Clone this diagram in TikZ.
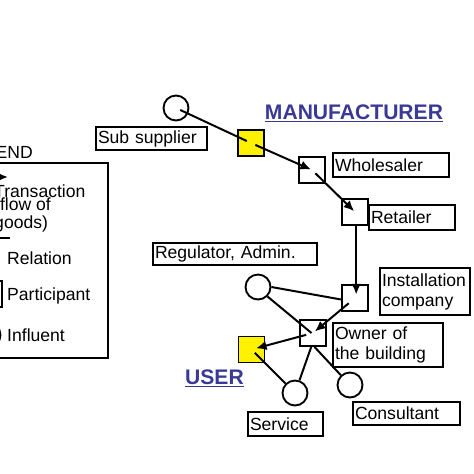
\documentclass[tikz,border=0pt]{standalone}
\usepackage{fontspec}
\setmainfont{Liberation Sans}
\usetikzlibrary{arrows.meta}
\definecolor{mfrblue}{RGB}{58,58,150}

\begin{document}
\begin{tikzpicture}[scale=0.3]
		\tikzstyle{every node}+=[inner sep=0pt, font=\fontsize{15}{17}\selectfont]
		\tikzstyle{party}=[draw=black, line width=1.6pt, minimum size=0.78cm]
		\tikzstyle{infl}=[draw=black, circle, line width=1.6pt, minimum size=0.75cm]
		\tikzstyle{tag}=[draw=black, line width=1.6pt, inner xsep=0.06cm, align=left]
		\tikzstyle{rel}=[black, line width=1.7pt]
		\tikzstyle{flow}=[black, line width=1.7pt, -{Latex[length=9pt,width=8pt]}]
		\useasboundingbox (0,0) rectangle (47.4,-47.4);
		\clip (0,0) rectangle (47.4,-47.4);
		% legend
		\draw [black, line width=1.3pt] (-6,-16.3) rectangle (10.8,-35.8);
		\node [anchor=east] (legtitle) at (3.3,-15.2) {LEGEND};
		\coordinate (fa) at (-2,-17.7);
		\coordinate (fb) at (0.8,-17.7);
		\draw [flow] (fa) -- (fb);
		\node [anchor=west, align=left, font=\fontsize{15}{11.5}\selectfont] (legflow) at (-0.6,-20.8) {Transaction\\(flow of\\goods)};
		\coordinate (ra) at (-2,-23.8);
		\coordinate (rb) at (1.0,-23.8);
		\draw [rel] (ra) -- (rb);
		\node [anchor=west] (legrel) at (0.7,-25.8) {Relation};
		\node [party] (legpart) at (-1.1,-29.4) {};
		\node [anchor=west] (legparttxt) at (0.7,-29.6) {Participant};
		\node [infl] (leginfl) at (-1.2,-33.5) {};
		\node [anchor=west] (leginfltxt) at (0.7,-33.5) {Influent};
		% headings
		\node [text=mfrblue, font=\fontsize{18}{20}\selectfont\bfseries] (mfr) at (35.4,-11.25) {MANUFACTURER};
		\draw [mfrblue, line width=1.2pt] ([yshift=-0.12cm]mfr.south west) -- ([yshift=-0.12cm]mfr.south east);
		\node [text=mfrblue, font=\fontsize{18}{20}\selectfont\bfseries] (usr) at (21.45,-37.75) {USER};
		\draw [mfrblue, line width=1.2pt] ([yshift=-0.12cm]usr.south west) -- ([yshift=-0.12cm]usr.south east);
		% participants and influents
		\node [infl] (sub) at (17.6,-10.8) {};
		\node [party, fill=yellow] (y1) at (25.1,-14.3) {};
		\node [party] (whs) at (31.2,-17.0) {};
		\node [party] (ret) at (35.5,-21.2) {};
		\node [party] (ins) at (35.5,-29.8) {};
		\node [infl] (reg) at (25.8,-28.7) {};
		\node [party] (own) at (31.3,-33.3) {};
		\node [party, fill=yellow] (y2) at (25.15,-34.95) {};
		\node [infl] (srv) at (29.5,-39.3) {};
		\node [infl] (con) at (35.0,-38.5) {};
		% labels
		\node [tag, text width=3.21cm, minimum height=0.69cm] (subtag) at (15.15,-13.85) {Sub supplier};
		\node [tag, text width=3.36cm, minimum height=0.72cm] (whstag) at (39.1,-16.5) {Wholesaler};
		\node [tag, text width=2.46cm, minimum height=0.75cm] (rettag) at (41.2,-21.75) {Retailer};
		\node [tag, text width=4.80cm, minimum height=0.66cm] (regtag) at (23.5,-25.4) {Regulator, Admin.};
		\node [tag, text width=2.58cm, minimum height=1.41cm] (instag) at (42.5,-29.15) {Installation\\company};
		\node [tag, text width=3.18cm, minimum height=1.32cm] (owntag) at (38.8,-34.5) {Owner of\\the building};
		\node [tag, text width=2.13cm, minimum height=0.72cm] (srvtag) at (28.55,-42.4) {Service};
		\node [tag, text width=3.09cm, minimum height=0.69cm] (contag) at (40.65,-41.35) {Consultant};
		% connectors
		\draw [rel, shorten <=4pt, shorten >=4pt] (sub.center) -- (y1.center);
		\draw [flow, shorten <=4pt, shorten >=1pt] (y1.center) -- (whs.center);
		\draw [flow, shorten <=4pt, shorten >=1pt] (whs.center) -- (ret.center);
		\draw [flow, shorten >=3pt] ([xshift=0.12cm]ret.south) -- ([xshift=0.12cm]ins.center);
		\draw [rel] (reg.east) -- ([yshift=-0.15cm]ins.west);
		\draw [rel] (reg.south east) -- ([xshift=-0.15cm]own.center);
		\draw [flow, shorten <=7pt, shorten >=2pt] (ins.center) -- (own.center);
		\draw [flow, shorten <=6pt, shorten >=4pt] (own.center) -- (y2.center);
		\draw [rel, shorten <=4pt] (y2.center) -- (srv);
		\draw [rel] ([xshift=-0.18cm]own.south) -- (srv);
		\draw [rel] ([xshift=0.15cm]own.south) -- (con);
	\end{tikzpicture}
\end{document}
